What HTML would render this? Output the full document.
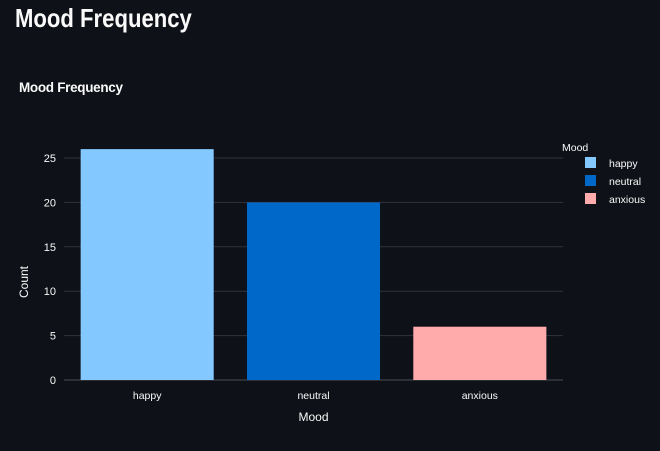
<!DOCTYPE html>
<html><head><meta charset="utf-8"><style>
body{margin:0;background:#0e1117;width:660px;height:451px;overflow:hidden;font-family:"Liberation Sans",sans-serif;}
h1{position:absolute;left:15px;top:3px;margin:0;color:#fafafa;font-size:26px;font-weight:bold;transform:scaleX(0.85);transform-origin:left top;}
</style></head><body>
<h1>Mood Frequency</h1>
<svg id="chart" width="660" height="451" style="position:absolute;left:0;top:0">
<text x="19" y="92" fill="#fafafa" font-size="13.5" font-weight="bold" textLength="104">Mood Frequency</text>
<g id="grid"></g><g id="bars"></g><g id="axes"></g><g id="legend"></g>
</svg>
<script>
const categories=["happy","neutral","anxious"];
const counts=[26,20,6];
const colors=["#83c9ff","#0068c9","#ffabab"];
const yTicks=[0,5,10,15,20,25];
const ns="http://www.w3.org/2000/svg";
const X0=64,X1=563,Y0=380,Y25=158;
const y=v=>Y0-(Y0-Y25)*v/25;
const bw=(X1-X0)/categories.length;
const x=i=>X0+bw*i;
function mk(tag,attrs,parent,txt){const e=document.createElementNS(ns,tag);for(const k in attrs)e.setAttribute(k,attrs[k]);if(txt!==undefined)e.textContent=txt;document.getElementById(parent).appendChild(e);return e;}
yTicks.forEach(t=>{
 const l=mk('line',{x1:X0,x2:X1,y1:y(t),y2:y(t),stroke:t===0?'#4a4d55':'#31333f','stroke-width':1},'grid');
 
 
 const tx=mk('text',{x:X0-8,y:y(t)+4,fill:'#fafafa','font-size':11,'text-anchor':'end'},'axes',t);
 
 
});
categories.forEach((c,i)=>{
 const r=mk('rect',{x:x(i)+bw*0.1,y:y(counts[i]),width:bw*0.8,height:Y0-y(counts[i]),fill:colors[i]},'bars');
 
 
 const tx=mk('text',{x:x(i)+bw/2,y:Y0+19,fill:'#fafafa','font-size':10.5,'text-anchor':'middle'},'axes',c);
 
 
 const lr=mk('rect',{x:585,y:157+i*18,width:11,height:11,fill:colors[i]},'legend');
 
 
 const lt=mk('text',{x:609,y:167+i*18,fill:'#fafafa','font-size':10.5},'legend',c);
 
 
});
const lg=mk('text',{x:562,y:151,fill:'#fafafa','font-size':10.5},'legend','Mood');


const xt=mk('text',{x:(X0+X1)/2,y:421,fill:'#fafafa','font-size':12,'text-anchor':'middle'},'axes','Mood');


const yt=mk('text',{x:28,y:(Y0+Y25)/2+13,fill:'#fafafa','font-size':12,'text-anchor':'middle',transform:'rotate(-90 28 '+((Y0+Y25)/2+13)+')'},'axes','Count');


</script>
</body></html>
